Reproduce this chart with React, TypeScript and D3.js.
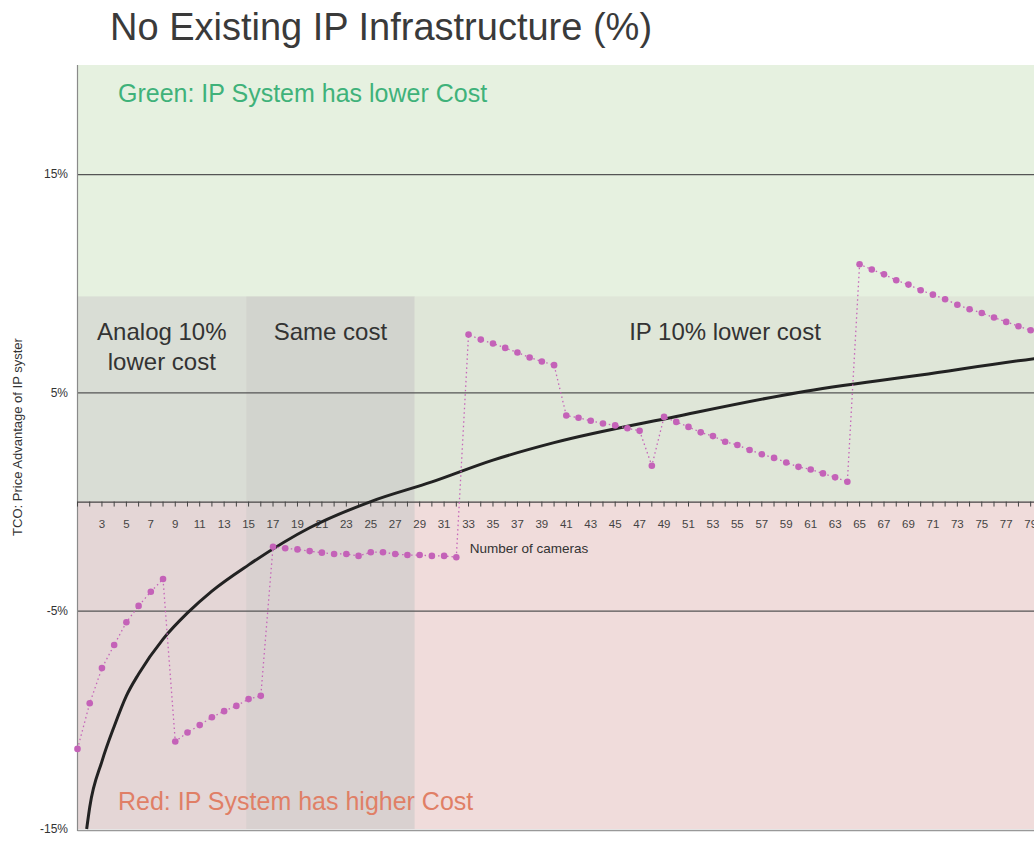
import { useEffect, useRef } from "react";
import * as d3 from "d3";

// number of cameras on the x axis
const cameraCounts = d3.range(1, 80);

// TCO price advantage of the IP system (%), one value per camera count
const ipAdvantage = [
  -11.33, -9.24, -7.63, -6.57, -5.53, -4.78, -4.13, -3.55, -10.99, -10.58,
  -10.24, -9.88, -9.6, -9.36, -9.05, -8.9, -2.07, -2.14, -2.19, -2.27,
  -2.34, -2.4, -2.4, -2.49, -2.32, -2.32, -2.4, -2.45, -2.45, -2.49,
  -2.49, -2.55, 7.65, 7.42, 7.24, 7.04, 6.83, 6.6, 6.42, 6.25,
  3.94, 3.84, 3.7, 3.58, 3.49, 3.36, 3.24, 1.64, 3.88, 3.65,
  3.42, 3.17, 3.0, 2.74, 2.59, 2.36, 2.17, 2.0, 1.79, 1.59,
  1.47, 1.29, 1.11, 0.91, 10.87, 10.63, 10.41, 10.14, 9.94, 9.68,
  9.48, 9.27, 9.02, 8.81, 8.64, 8.43, 8.23, 8.03, 7.85,
];

// logarithmic trend line
const trendCameras = [1.75, 2, 3, 4, 5, 6, 8, 10, 12, 15, 20, 25, 30, 35, 40, 50, 60, 70, 80, 90];
const trendValues = [-15, -14.0, -11.9, -10.3, -8.9, -7.9, -6.3, -5.1, -4.1, -2.9, -1.2, 0, 0.9, 1.9, 2.7, 3.9, 5.0, 5.8, 6.6, 7.2];

// y ticks (%)
const yTicks = [15, 5, -5, -15];

// cost zones
const zoneLabels = [["Analog 10%", "lower cost"], ["Same cost"], ["IP 10% lower cost"]];
const zoneStart = [1, 14.8, 28.6];
const zoneEnd = [14.8, 28.6, 95];
const bandTop = 9.4;

const zoneFillUpper = ["#d9ddd5", "#d2d4ce", "#dfe6d8"];
const zoneFillLower = ["#e4d6d6", "#d9d1d0", "#f0dcdb"];

const font = "'Liberation Sans', Arial, sans-serif";

export default function App() {
  const ref = useRef(null);
  const W = 1034;
  const H = 844;

  useEffect(() => {
    d3.select(ref.current).selectAll("*").remove();
    const svg = d3
      .select(ref.current)
      .append("svg")
      .attr("width", W)
      .attr("height", H)
      .style("display", "block")
      .style("background", "#fff");

    const x = d3.scaleLinear().domain([1, 79]).range([77.5, 77.5 + 78 * 12.22]);
    const y = d3.scaleLinear().domain([-15, 20]).range([829, 65]);
    const xMax = 95;

    // backgrounds: green above zero, red below
    svg
      .append("rect")
      .attr("x", x(1))
      .attr("y", y(20))
      .attr("width", x(xMax) - x(1))
      .attr("height", y(0) - y(20))
      .attr("fill", "#e6f1e0");
    svg
      .append("rect")
      .attr("x", x(1))
      .attr("y", y(0))
      .attr("width", x(xMax) - x(1))
      .attr("height", y(-15) - y(0))
      .attr("fill", "#f0dcdb");

    // zone bands
    zoneStart.forEach((s, i) => {
      svg
        .append("rect")
        .attr("x", x(s))
        .attr("y", y(bandTop))
        .attr("width", x(zoneEnd[i]) - x(s))
        .attr("height", y(0) - y(bandTop))
        .attr("fill", zoneFillUpper[i]);
      svg
        .append("rect")
        .attr("x", x(s))
        .attr("y", y(0))
        .attr("width", x(zoneEnd[i]) - x(s))
        .attr("height", y(-15) - y(0))
        .attr("fill", zoneFillLower[i]);
    });

    // horizontal grid lines
    svg
      .selectAll(".grid")
      .data(yTicks.filter((t) => t !== -15))
      .enter()
      .append("line")
      .attr("x1", x(1))
      .attr("x2", W)
      .attr("y1", (d) => y(d) + 0.5)
      .attr("y2", (d) => y(d) + 0.5)
      .attr("stroke", "#555")
      .attr("stroke-width", 1.2);

    // bottom border
    svg
      .append("line")
      .attr("x1", x(1))
      .attr("x2", W)
      .attr("y1", y(-15) + 1.5)
      .attr("y2", y(-15) + 1.5)
      .attr("stroke", "#999")
      .attr("stroke-width", 1.5);

    // left axis
    svg
      .append("line")
      .attr("x1", x(1))
      .attr("x2", x(1))
      .attr("y1", y(20))
      .attr("y2", y(-15) + 2)
      .attr("stroke", "#8a8a8a")
      .attr("stroke-width", 1.2);

    // y tick labels
    svg
      .selectAll(".ytick")
      .data(yTicks)
      .enter()
      .append("text")
      .attr("x", 68)
      .attr("y", (d) => y(d))
      .attr("dy", "0.35em")
      .attr("text-anchor", "end")
      .style("font-family", font)
      .style("font-size", "12px")
      .attr("fill", "#333")
      .text((d) => d + "%");

    // y axis title
    svg
      .append("text")
      .attr("transform", "translate(22, 437) rotate(-90)")
      .attr("text-anchor", "middle")
      .style("font-family", font)
      .style("font-size", "13px")
      .attr("fill", "#333")
      .text("TCO: Price Advantage of IP syster");

    // x axis at zero with ticks at every camera
    svg
      .append("line")
      .attr("x1", x(1))
      .attr("x2", W)
      .attr("y1", y(0) + 0.5)
      .attr("y2", y(0) + 0.5)
      .attr("stroke", "#444")
      .attr("stroke-width", 1.2);
    svg
      .selectAll(".xtick")
      .data(cameraCounts)
      .enter()
      .append("line")
      .attr("x1", (d) => x(d))
      .attr("x2", (d) => x(d))
      .attr("y1", y(0))
      .attr("y2", y(0) + 5)
      .attr("stroke", "#444")
      .attr("stroke-width", 1);
    svg
      .selectAll(".xlabel")
      .data(cameraCounts.filter((c) => c % 2 === 1 && c > 1))
      .enter()
      .append("text")
      .attr("x", (d) => x(d))
      .attr("y", y(0) + 26)
      .attr("text-anchor", "middle")
      .style("font-family", font)
      .style("font-size", "11.5px")
      .attr("fill", "#444")
      .text((d) => d);

    svg
      .append("text")
      .attr("x", x(33.1))
      .attr("y", y(0) + 51)
      .style("font-family", font)
      .style("font-size", "13.5px")
      .attr("fill", "#333")
      .text("Number of cameras");

    // zone labels
    zoneLabels.forEach((lines, i) => {
      const cx = i < 2 ? (x(zoneStart[i]) + x(zoneEnd[i])) / 2 : 725;
      lines.forEach((l, j) => {
        svg
          .append("text")
          .attr("x", cx)
          .attr("y", 340 + j * 30)
          .attr("text-anchor", "middle")
          .style("font-family", font)
          .style("font-size", "24px")
          .attr("fill", "#333")
          .text(l);
      });
    });

    svg
      .append("text")
      .attr("x", 118)
      .attr("y", 102)
      .style("font-family", font)
      .style("font-size", "25px")
      .attr("fill", "#3fb27a")
      .text("Green: IP System has lower Cost");
    svg
      .append("text")
      .attr("x", 118)
      .attr("y", 810)
      .style("font-family", font)
      .style("font-size", "25px")
      .attr("fill", "#e07f66")
      .text("Red: IP System has higher Cost");

    // trend line
    const trend = trendCameras.map((c, i) => ({ c, v: trendValues[i] }));
    svg
      .append("path")
      .datum(trend)
      .attr("fill", "none")
      .attr("stroke", "#222")
      .attr("stroke-width", 3)
      .attr(
        "d",
        d3
          .line()
          .x((d) => x(d.c))
          .y((d) => y(d.v))
          .curve(d3.curveMonotoneX)
      );

    // series: dotted line plus markers
    const series = cameraCounts.map((c, i) => ({ c, v: ipAdvantage[i] }));
    svg
      .append("path")
      .datum(series)
      .attr("fill", "none")
      .attr("stroke", "#c565b9")
      .attr("stroke-width", 1.3)
      .attr("stroke-dasharray", "1.5,3")
      .attr(
        "d",
        d3
          .line()
          .x((d) => x(d.c))
          .y((d) => y(d.v))
      );
    svg
      .selectAll(".pt")
      .data(series)
      .enter()
      .append("circle")
      .attr("cx", (d) => x(d.c))
      .attr("cy", (d) => y(d.v))
      .attr("r", 3.3)
      .attr("fill", "#c462b8");

    // title
    svg
      .append("text")
      .attr("x", 110)
      .attr("y", 40)
      .style("font-family", font)
      .style("font-size", "38px")
      .attr("fill", "#3a3a3a")
      .text("No Existing IP Infrastructure (%)");
  }, []);

  return <div ref={ref} style={{ position: "absolute", left: 0, top: 0 }}></div>;
}
